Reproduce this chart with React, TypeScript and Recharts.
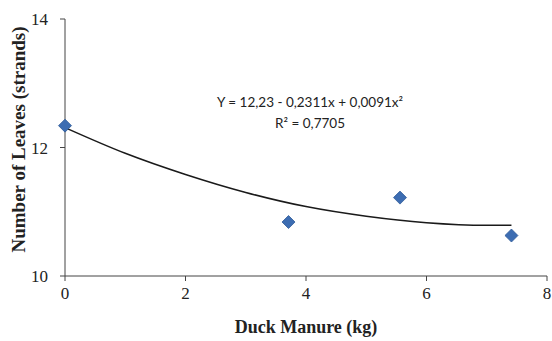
import { ComposedChart, Line, Scatter, XAxis, YAxis } from "recharts";

/* ── Data ────────────────────────────────────────────────────── */

// observed means
const manureKg = [0, 3.71, 5.56, 7.41];
const leafCount = [12.34, 10.84, 11.22, 10.63];

// trend curve as drawn
const trendX = [0, 1, 2, 3, 4, 5, 6, 7, 7.41];
const trendY = [12.31, 11.91, 11.58, 11.3, 11.08, 10.93, 10.83, 10.79, 10.79];

const xTicks = [0, 2, 4, 6, 8];
const yTicks = [10, 12, 14];

const equationText = "Y = 12,23 - 0,2311x + 0,0091x²";
const r2Text = "R² = 0,7705";

const points = manureKg.map((x, i) => ({ x, y: leafCount[i] }));
const trend = trendX.map((x, i) => ({ x, y: trendY[i] }));

/* ── Styles ──────────────────────────────────────────────────── */

const serif = "'Liberation Serif', 'Times New Roman', serif";
const axisColor = "#444";
const tickStyle = { fontFamily: serif, fontSize: 17, fill: "#222" };

function Diamond(props: any) {
  const { cx, cy } = props;
  const r = 6.5;
  return (
    <polygon
      points={`${cx},${cy - r} ${cx + r},${cy} ${cx},${cy + r} ${cx - r},${cy}`}
      fill="#3d6db2"
      stroke="#2f5a98"
      strokeWidth={0.8}
    />
  );
}

function YTitle(props: any) {
  const { viewBox } = props;
  const cx = 18;
  const cy = viewBox.y + viewBox.height / 2 - 8;
  return (
    <text
      x={cx}
      y={cy}
      transform={`rotate(-90, ${cx}, ${cy})`}
      textAnchor="middle"
      dominantBaseline="central"
      style={{ fontFamily: serif, fontSize: 19, fontWeight: 700, fill: "#222" }}
    >
      Number of Leaves (strands)
    </text>
  );
}

export default function App() {
  return (
    <div style={{ position: "relative", width: 552, height: 341, background: "#fff" }}>
      <style>{"body{margin:0}"}</style>
      <ComposedChart
        width={552}
        height={341}
        margin={{ top: 19, right: 5, bottom: 0, left: 0 }}
      >
        <XAxis
          type="number"
          dataKey="x"
          domain={[0, 8]}
          ticks={xTicks}
          height={65}
          tickSize={5}
          tickMargin={6}
          stroke={axisColor}
          tick={tickStyle}
          label={{
            value: "Duck Manure (kg)",
            position: "insideBottom",
            offset: 8,
            style: { fontFamily: serif, fontSize: 18, fontWeight: 700, fill: "#222" },
          }}
        />
        <YAxis
          type="number"
          dataKey="y"
          domain={[10, 14]}
          ticks={yTicks}
          width={65}
          tickSize={5}
          tickMargin={12}
          stroke={axisColor}
          tick={tickStyle}
          label={<YTitle />}
        />
        <Line
          data={trend}
          dataKey="y"
          type="monotone"
          stroke="#1a1a1a"
          strokeWidth={1.5}
          dot={false}
          activeDot={false}
          isAnimationActive={false}
        />
        <Scatter
          data={points}
          dataKey="y"
          shape={<Diamond />}
          isAnimationActive={false}
        />
      </ComposedChart>
      <div
        style={{
          position: "absolute",
          left: 190,
          top: 92,
          width: 240,
          textAlign: "center",
          fontFamily: "Lato, 'Open Sans', sans-serif",
          fontSize: 13.5,
          lineHeight: "21px",
          color: "#222",
        }}
      >
        <div>{equationText}</div>
        <div>{r2Text}</div>
      </div>
    </div>
  );
}
